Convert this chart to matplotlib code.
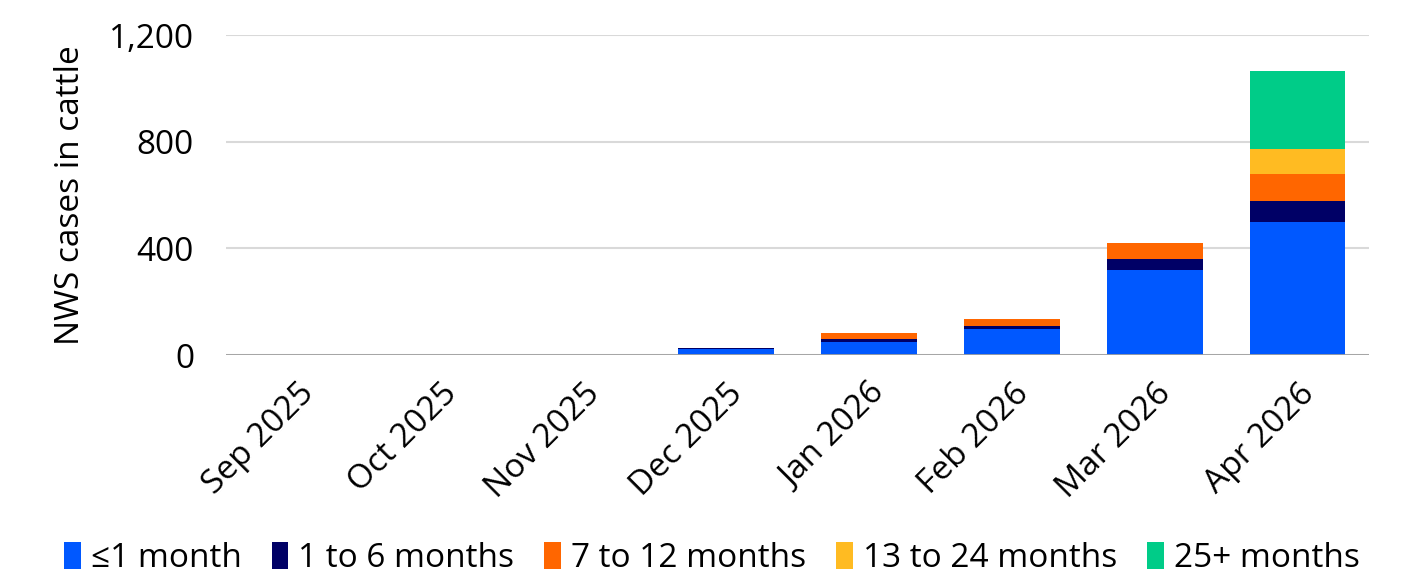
import matplotlib
matplotlib.use("Agg")
import matplotlib.pyplot as plt
import matplotlib.ticker as ticker
import numpy as np

MONTHS = ["Sep 2025", "Oct 2025", "Nov 2025", "Dec 2025",
          "Jan 2026", "Feb 2026", "Mar 2026", "Apr 2026"]

AGE_1M   = [0, 0, 0, 24, 48, 98, 318, 498]
AGE_1_6  = [0, 0, 0, 1, 12, 12, 41, 81]
AGE_7_12 = [0, 0, 0, 2, 21, 24, 61, 101]
AGE_13_24 = [0, 0, 0, 0, 0, 0, 0, 92]
AGE_25P  = [0, 0, 0, 0, 0, 0, 0, 292]

SERIES = [
    ("≤1 month",        AGE_1M,    "#0058ff"),
    ("1 to 6 months",   AGE_1_6,   "#000066"),
    ("7 to 12 months",  AGE_7_12,  "#ff6600"),
    ("13 to 24 months", AGE_13_24, "#ffbb22"),
    ("25+ months",      AGE_25P,   "#00cc88"),
]

plt.rcParams["font.family"] = ["Open Sans", "DejaVu Sans"]
plt.rcParams["font.size"] = 24

fig = plt.figure(figsize=(14.24, 5.78), dpi=100)
ax = fig.add_axes([226 / 1424, 1 - 355 / 578, (1369 - 226) / 1424, 320 / 578])

x = np.arange(len(MONTHS))
bottom = np.zeros(len(MONTHS))
for label, vals, color in SERIES:
    vals = np.array(vals, dtype=float)
    ax.bar(x, vals, width=0.67, bottom=bottom, color=color, label=label, zorder=3)
    bottom += vals

ax.set_xlim(-0.5, len(MONTHS) - 0.5)
ax.set_ylim(0, 1200)
ax.set_yticks([0, 400, 800, 1200])
ax.yaxis.set_major_formatter(ticker.FuncFormatter(lambda v, _: f"{int(v):,}"))
ax.grid(axis="y", color="#d9d9d9", lw=1.5, zorder=0)
ax.axhline(0, color="#a0a0a0", lw=2, zorder=4)
for s in ax.spines.values():
    s.set_visible(False)
ax.tick_params(axis="y", length=0, pad=23)
ax.tick_params(axis="x", length=0, pad=16)
ax.set_xticks(x)
ax.set_xticklabels(MONTHS, rotation=45, ha="right", rotation_mode="anchor")
ax.set_ylabel("NWS cases in cattle", labelpad=16)

fig.legend(loc="lower center", bbox_to_anchor=(0.5, -0.047), ncol=5, frameon=False,
           handlelength=0.5, handleheight=0.9, handletextpad=0.3, columnspacing=0.9)

fig.savefig("out.png", dpi=100)
